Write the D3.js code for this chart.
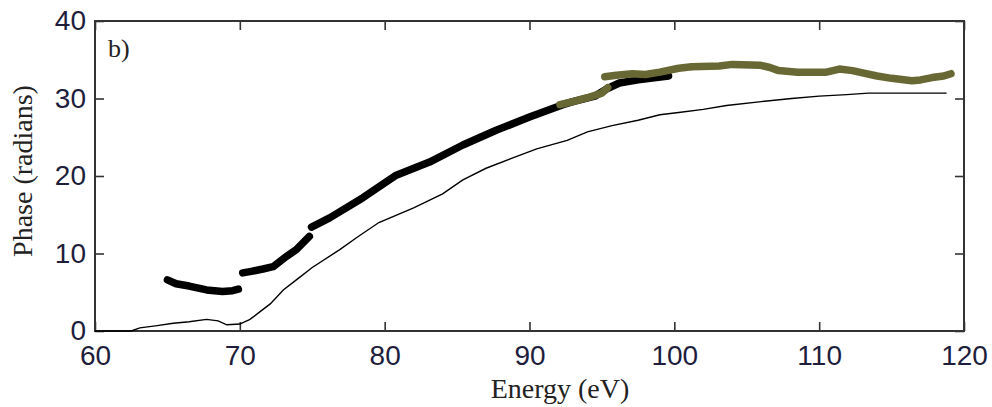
<!DOCTYPE html>
<html>
<head>
<meta charset="utf-8">
<script src="https://cdn.jsdelivr.net/npm/d3@7"></script>
<style>
  body { margin: 0; background: #fff; }
  svg { display: block; }
  .tick text { font-family: "Liberation Sans", Arial, sans-serif; font-size: 28px; fill: #1e1e3c; }
  .tick line { stroke: #333; stroke-width: 1.6; }
  .lbl { font-family: "Liberation Serif", "Times New Roman", serif; fill: #222; }
</style>
</head>
<body>
<div id="chart"></div>
<script>
// tick values
const xTicks = [60, 70, 80, 90, 100, 110, 120];
const yTicks = [0, 10, 20, 30, 40];

// thin calculated phase curve [energy, phase]
const modelCurve = [
  [60, 0], [62.5, 0], [63.1, 0.4], [64.3, 0.7], [65.4, 1.0], [66.5, 1.2], [67.7, 1.5],
  [68.5, 1.3], [69.1, 0.8], [70, 0.9], [70.7, 1.5], [71.4, 2.5], [72.1, 3.5],
  [73, 5.3], [73.9, 6.6], [75, 8.2], [76.9, 10.5], [78.1, 12.1], [79.6, 14.0],
  [82, 15.9], [84, 17.7], [85.4, 19.5], [87, 21.0], [88.8, 22.3], [90.5, 23.5], [92.6, 24.6],
  [94, 25.7], [95.7, 26.5], [97.5, 27.2], [99, 27.9], [100.3, 28.2], [102, 28.6],
  [103.6, 29.1], [106, 29.6], [108.1, 30.0], [110, 30.3], [111.9, 30.5], [113.4, 30.7],
  [116, 30.7], [118.8, 30.7]
];

// measured phase, black segments
const blackSeg1 = [[65.0, 6.6], [65.6, 6.1], [66.5, 5.8], [67.7, 5.3], [68.8, 5.1], [69.5, 5.2], [69.9, 5.4]];
const blackSeg2 = [[70.2, 7.5], [70.8, 7.7], [71.6, 8.0], [72.3, 8.3], [73.2, 9.6], [73.9, 10.5], [74.8, 12.2]];
const blackSeg3 = [
  [74.95, 13.4], [76.2, 14.6], [78.5, 17.2], [80.8, 20.1], [83.1, 21.8], [85.4, 24.0],
  [87.7, 25.9], [90, 27.6], [92.3, 29.2], [93, 29.6], [94.5, 30.3], [95.3, 31.2],
  [96.2, 32.0], [97.5, 32.4], [99.6, 32.9]
];

// measured phase, olive segments
const oliveSeg1 = [[92.1, 29.2], [93, 29.6], [94, 30.1], [95, 30.7], [95.4, 31.4]];
const oliveSeg2 = [
  [95.2, 32.8], [96, 33.0], [97.1, 33.2], [98, 33.1], [99, 33.4], [100.3, 33.9],
  [101.2, 34.1], [103.1, 34.2], [104, 34.4], [105.9, 34.3], [106.6, 34.0], [107.2, 33.6],
  [108.5, 33.4], [110.5, 33.4], [111.4, 33.8], [112.3, 33.6], [113, 33.3], [114, 32.9],
  [115, 32.6], [116.4, 32.3], [117, 32.4], [117.8, 32.7], [118.6, 32.9], [119.1, 33.2]
];

const width = 992, height = 407;
const margin = {top: 21, right: 28, bottom: 76, left: 95};
const inner = {width: width - margin.left - margin.right, height: height - margin.top - margin.bottom};

const svg = d3.select("#chart").append("svg")
  .attr("width", width)
  .attr("height", height);

const g = svg.append("g").attr("transform", `translate(${margin.left},${margin.top})`);

const x = d3.scaleLinear().domain([60, 120]).range([0, inner.width]);
const y = d3.scaleLinear().domain([0, 40]).range([inner.height, 0]);

const line = d3.line().x(d => x(d[0])).y(d => y(d[1]));

// axes, ticks pointing inward
g.append("g")
  .attr("transform", `translate(0,${inner.height})`)
  .call(d3.axisBottom(x).tickValues(xTicks).tickSizeInner(-9).tickSizeOuter(0).tickPadding(14))
  .call(a => a.select(".domain").remove());

g.append("g")
  .call(d3.axisTop(x).tickValues(xTicks).tickSizeInner(-9).tickSizeOuter(0).tickFormat(""))
  .call(a => a.select(".domain").remove());

g.append("g")
  .call(d3.axisLeft(y).tickValues(yTicks).tickSizeInner(-9).tickSizeOuter(0).tickPadding(9))
  .call(a => a.select(".domain").remove());

g.append("g")
  .attr("transform", `translate(${inner.width},0)`)
  .call(d3.axisRight(y).tickValues(yTicks).tickSizeInner(-9).tickSizeOuter(0).tickFormat(""))
  .call(a => a.select(".domain").remove());

// frame
g.append("rect")
  .attr("width", inner.width)
  .attr("height", inner.height)
  .attr("fill", "none")
  .attr("stroke", "#333")
  .attr("stroke-width", 2);

// model curve
g.append("path")
  .datum(modelCurve)
  .attr("fill", "none")
  .attr("stroke", "#000")
  .attr("stroke-width", 1.4)
  .attr("d", line);

// measured segments
g.append("g")
  .attr("fill", "none")
  .attr("stroke", "#000")
  .attr("stroke-width", 7.5)
  .attr("stroke-linecap", "round")
  .attr("stroke-linejoin", "round")
  .selectAll("path")
  .data([blackSeg1, blackSeg2, blackSeg3])
  .join("path")
  .attr("d", line);

g.append("g")
  .attr("fill", "none")
  .attr("stroke", "#686834")
  .attr("stroke-width", 7.5)
  .attr("stroke-linecap", "round")
  .attr("stroke-linejoin", "round")
  .selectAll("path")
  .data([oliveSeg1, oliveSeg2])
  .join("path")
  .attr("d", line);

// panel tag
g.append("text")
  .attr("class", "lbl")
  .attr("x", 13)
  .attr("y", 36)
  .style("font-size", "26px")
  .text("b)");

// axis labels
svg.append("text")
  .attr("class", "lbl")
  .attr("x", 560)
  .attr("y", 398)
  .attr("text-anchor", "middle")
  .style("font-size", "28px")
  .text("Energy (eV)");

svg.append("text")
  .attr("class", "lbl")
  .attr("transform", "translate(32,171) rotate(-90)")
  .attr("text-anchor", "middle")
  .style("font-size", "28px")
  .text("Phase (radians)");
</script>
</body>
</html>
